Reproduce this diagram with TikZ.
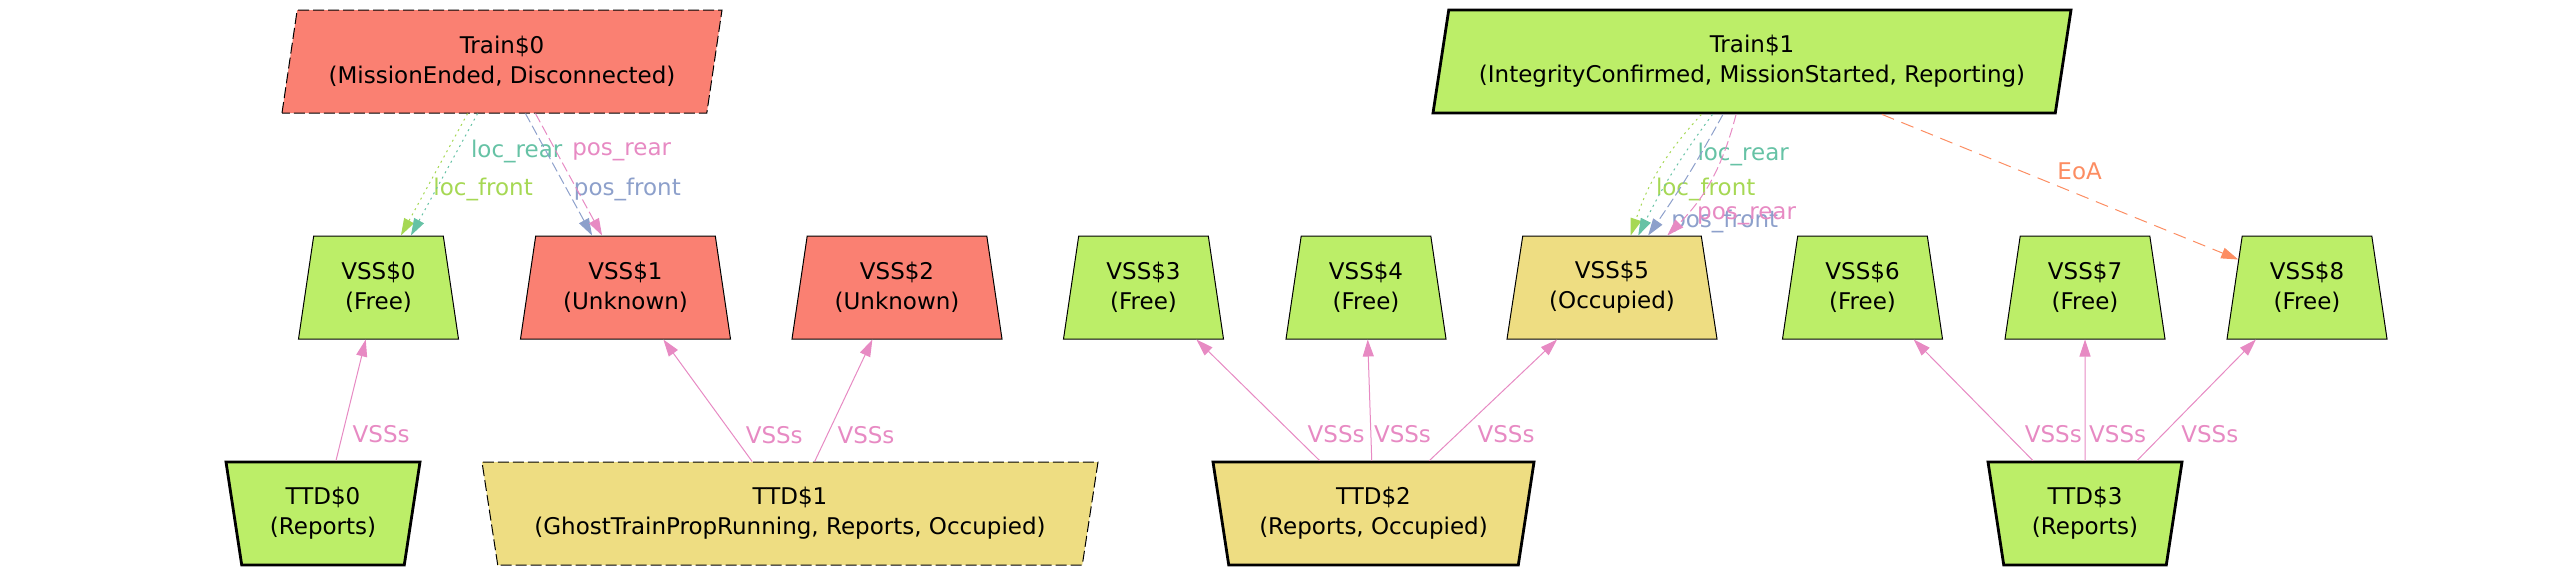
\documentclass[tikz,border=0pt]{standalone}
\usepackage{fontspec}
\setmainfont{DejaVu Sans}
\usetikzlibrary{arrows.meta,shapes.geometric}

\definecolor{freegreen}{HTML}{BCEE68}
\definecolor{unknownred}{HTML}{FA8072}
\definecolor{occyellow}{HTML}{EEDD82}
\definecolor{edgeteal}{HTML}{66C2A5}
\definecolor{edgeorange}{HTML}{FC8D62}
\definecolor{edgeblue}{HTML}{8DA0CB}
\definecolor{edgepink}{HTML}{E78AC3}
\definecolor{edgegreen}{HTML}{A6D854}

\begin{document}
\begin{tikzpicture}[x=0.5pt, y=-0.5pt, >={Triangle[length=8.5pt,width=5.5pt]},
  every node/.style={font=\fontsize{11.5}{15}\selectfont, align=center},
  box/.style={trapezium, trapezium stretches body, draw, line width=0.5pt, inner sep=0pt, minimum height=51.5pt},
  vss/.style={box, trapezium left angle=73.25, trapezium right angle=73.25},
  ttd/.style={box, trapezium left angle=106.75, trapezium right angle=106.75},
  train/.style={box, trapezium left angle=73.25, trapezium right angle=106.75},
  thick border/.style={line width=1.4pt},
  ghost/.style={dash pattern=on 5.5pt off 2pt},
  locfront/.style={color=edgegreen, line width=0.5pt, dash pattern=on 1pt off 2pt},
  locrear/.style={color=edgeteal, line width=0.5pt, dash pattern=on 1pt off 2pt},
  posfront/.style={color=edgeblue, line width=0.5pt, dash pattern=on 5pt off 2pt},
  posrear/.style={color=edgepink, line width=0.5pt, dash pattern=on 5pt off 2pt},
  eoa/.style={color=edgeorange, line width=0.5pt, dash pattern=on 6.5pt off 4pt},
  vsslink/.style={color=edgepink, line width=0.5pt}]
  \useasboundingbox (0,0) rectangle (2551,575);

  % trains
  \node[train, ghost, fill=unknownred, minimum width=220pt] (train0) at (502,61.5) {Train\$0\\(MissionEnded, Disconnected)};
  \node[train, thick border, fill=freegreen, minimum width=319pt] (train1) at (1752,61.5) {Train\$1\\(IntegrityConfirmed, MissionStarted, Reporting)};

  % virtual sub-sections
  \foreach \i/\x/\w/\st/\col in {0/378.5/80/Free/freegreen, 1/625.5/105/Unknown/unknownred,
      2/897/105/Unknown/unknownred, 3/1143.5/80/Free/freegreen, 4/1366/80/Free/freegreen,
      5/1612/105/Occupied/occyellow, 6/1862.5/80/Free/freegreen, 7/2085/80/Free/freegreen,
      8/2307/80/Free/freegreen}
    \node[vss, fill=\col, minimum width=\w pt] (vss\i) at (\x,287.5) {VSS\$\i\\(\st)};

  % track detection sections
  \node[ttd, thick border, fill=freegreen, minimum width=97pt] (ttd0) at (323,513.5) {TTD\$0\\(Reports)};
  \node[ttd, ghost, fill=occyellow, minimum width=308pt] (ttd1) at (790,513.5) {TTD\$1\\(GhostTrainPropRunning, Reports, Occupied)};
  \node[ttd, thick border, fill=occyellow, minimum width=160.5pt] (ttd2) at (1373.5,513.5) {TTD\$2\\(Reports, Occupied)};
  \node[ttd, thick border, fill=freegreen, minimum width=97pt] (ttd3) at (2085,513.5) {TTD\$3\\(Reports)};

  \foreach \a/\b/\s in {ttd0/vss0/1.5, ttd1/vss1/3, ttd1/vss2/1.5, ttd2/vss3/4, ttd2/vss4/-2,
      ttd2/vss5/6.5, ttd3/vss6/5.5, ttd3/vss7/-1.5, ttd3/vss8/5.5}
    \draw[vsslink, ->] (\a) -- node[pos=0.22, anchor=west, xshift=\s pt] {VSSs} (\b);

  % train positions
  \draw[locfront, ->, transform canvas={xshift=-3pt}] (train0) -- node[pos=0.62, anchor=west] {loc\_front} (vss0);
  \draw[locrear, ->, transform canvas={xshift=2pt}] (train0) -- node[pos=0.31, anchor=west, xshift=3.5pt] {loc\_rear} (vss0);
  \draw[posfront, ->, transform canvas={xshift=-2.5pt}] (train0) -- node[pos=0.62, anchor=west] {pos\_front} (vss1);
  \draw[posrear, ->, transform canvas={xshift=2.5pt}] (train0) -- node[pos=0.31, anchor=west, xshift=4.5pt] {pos\_rear} (vss1);

  \draw[locfront, ->] (train1) to[bend right=12] node[pos=0.66, anchor=west] {loc\_front} (vss5);
  \draw[locrear, ->] (train1) to[bend right=5] node[pos=0.33, anchor=west, xshift=3pt] {loc\_rear} (vss5);
  \draw[posfront, ->] (train1) to[bend left=3] node[pos=0.89, anchor=west, xshift=3pt] {pos\_front} (vss5);
  \draw[posrear, ->] (train1) to[bend left=15] node[pos=0.82, anchor=west, xshift=2pt] {pos\_rear} (vss5);
  \draw[eoa, ->] (train1) -- node[pos=0.48, anchor=south west, inner sep=2pt] {EoA} (vss8);
\end{tikzpicture}
\end{document}
